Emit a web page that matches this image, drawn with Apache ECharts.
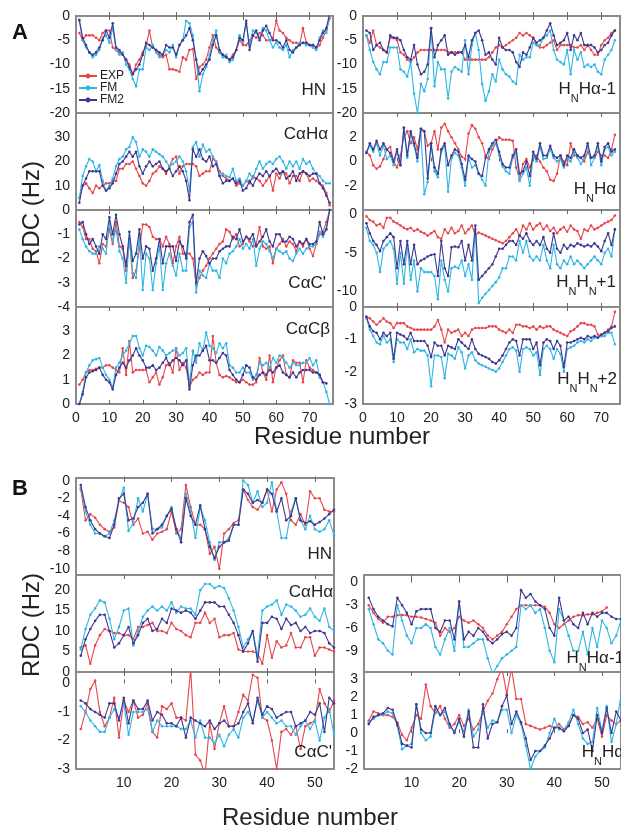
<!DOCTYPE html>
<html>
<head>
<meta charset="utf-8">
<script src="https://cdn.jsdelivr.net/npm/echarts@6/dist/echarts.min.js"></script>
<style>
  html, body { margin: 0; padding: 0; background: #fff; }
  #main { width: 621px; height: 831px; }
</style>
</head>
<body>
<div id="main"></div>
<script>
// residue numbers
var resA = [1,2,3,4,5,6,7,8,9,10,11,12,13,14,15,16,17,18,19,20,21,22,23,24,25,26,27,28,29,30,31,32,33,34,35,36,37,38,39,40,
  41,42,43,44,45,46,47,48,49,50,51,52,53,54,55,56,57,58,59,60,61,62,63,64,65,66,67,68,69,70,71,72,73,74,75,76];
var resAR = [1,2,3,4,5,6,7,8,9,10,11,12,13,14,15,16,17,18,19,20,21,22,23,24,25,26,27,28,29,30,31,32,33,34,35,36,37,38,39,40,
  41,42,43,44,45,46,47,48,49,50,51,52,53,54,55,56,57,58,59,60,61,62,63,64,65,66,67,68,69,70,71,72,73,74];
var resB = [1,2,3,4,5,6,7,8,9,10,11,12,13,14,15,16,17,18,19,20,21,22,23,24,25,26,27,28,29,30,31,32,33,34,35,36,37,38,39,40,
  41,42,43,44,45,46,47,48,49,50,51,52,53,54];

// ---- panel A ----
var aHnExp = [-3.5,-5,-4,-4,-4,-4.5,-5,-3.5,-3,-3, -6.5,-7,-7.5,-8,-9,-10,-12,-10,-9,-7.5,
  -6,-3,-6.5,-7,-8,-8.5,-8,-11,-11,-11.2, -11.5,-8.5,-9,-7,-6.8,-13,-10.5,-10,-9,-6.5,
  -4,-6.5,-7.5,-8,-8.5,-9,-8,-7,-5,-6, -6,-5,-4,-4.5,-3.5,-4,-5,-5,-4.5,-1,
  -3,-3.5,-4.5,-5,-5.5,-5.5,-6,-2.5,-5.5,-6, -6,-6.5,-6,-4.5,-3,-0.5];
var aHnFm = [-1,-5,-6.5,-7.5,-8.5,-8,-7,-4.5,-4,-5.5, -2.5,-7,-8,-7.5,-10,-11,-13,-14.5,-11,-11,
  -6.5,-7,-6,-7.5,-8.5,-8,-7,-7.5,-6,-8.5, -6,-5,-1,-1.5,-4,-9,-15.5,-12,-10.5,-8,
  -5,-3,-7.5,-8.5,-8,-9.5,-9,-7,-4,-5.5, -1.5,-6,-3,-3.5,-4.5,-2.5,-3,-5,-6.5,-5.5,
  -6.5,-7,-6,-8.5,-7,-6.5,-5.5,-5.5,-6,-6, -6.5,-7,-4.5,-3,-3.5,0];
var aHnFm2 = [-0.8,-4.5,-6,-7.5,-8,-7.5,-6.5,-5,-3,-4.5, -1.5,-6.5,-7,-8,-9,-10.5,-12,-11,-10,-8,
  -5.5,-6,-6.5,-7,-7.5,-8,-6,-6.5,-6.5,-8, -6,-5,-4,-2.5,-5,-9,-12,-11,-10,-9,
  -6,-4,-7,-8,-8.5,-9,-8.5,-7,-4.5,-5, -1,-7,-4,-3,-5,-3,-2,-3.5,-5,-5,
  -5.5,-6.5,-5,-7,-7.5,-6.5,-6,-5.5,-5.5,-6, -6,-6.5,-5,-3.5,-2.5,0.5];

var aCaHaExp = [5,10,11,9,7,10,9,10,11,11, 12,12,17,17,19,19,20,17,14,11,
  10,12,15,16,18,17,15,18,21,22, 15,18,19,19,19,18,14,15,16,16,
  21,20,16,14,13,12,13,10,11,10, 12,11,14,13,12,10,12,14,8,15,
  13,16,15,11,14,14,12,16,15,12, 13,12,11,10,7,2];
var aCaHaFm = [5,14,18,21,20,16,18.5,12,8,10, 13,18,21,22,25,26,30,28,22,25,
  24,22,25,24,23,22,20,18,19,20, 22,20,16,8,26,28,22,27,24,25,
  22,20,14,15,14,13.5,17,12,13,10, 12,15,13,17,20,17,19,20,19,21,
  22,20,17,20,18,20,17,21,19,20, 17,15,14,12,11,11];
var aCaHaFm2 = [3,10,13,16,16,16,16,10,8,9, 11,15,19,20,22,24,22,24,18,15,
  18,20,18,19,20,17,16,17,14,16, 18,16,12,4,25,22,25,21,20,22,
  18,19,14,11,12,12,13,11,12,8, 9,12,10,13,15,14,16,14,16,17,
  15,16,13,14,16,12,15,16,15,14, 15,15,11,9,6,3];

var aCaCExp = [-0.5,-0.7,-1.2,-1.2,-1.6,-1.7,-2.2,-1.4,-1.5,-0.8, -1.4,-0.5,-1.5,-1.6,-2.5,-1.2,-2.8,-2.5,-1.6,-0.6,
  -0.6,-0.7,-1.1,-1.2,-1.2,-1.5,-1.1,-1.4,-2.2,-1.5, -1.1,-1.8,-1.8,-1.8,-2,-3.1,-2.8,-2.5,-2.3,-2,
  -1.8,-1.6,-1.4,-1.3,-0.8,-0.9,-1.2,-1,-1.5,-1.4, -1.1,-1.3,-1.5,-1.4,-0.7,-1.5,-1.6,-1.5,-2.2,-1.6,
  -1.4,-1.2,-1.5,-1.3,-1.4,-1.7,-1.3,-1.5,-1.2,-1.6, -1.9,-1.4,-1,-0.9,-0.5,0];
var aCaCFm = [-0.8,-1.2,-1.5,-1.7,-1.8,-1.8,-1.5,-1.6,-1.8,-0.5, -1.3,-0.8,-1.7,-2,-3,-1.2,-2.6,-2.8,-1,-3.3,
  -1.8,-2,-3.3,-2.2,-1.5,-3.3,-2.2,-1.8,-2.3,-2.7, -1.8,-2.5,-2.5,-0.7,-0.5,-3.4,-2.5,-2.7,-2.8,-2.2,
  -2.5,-2.5,-2.8,-2,-2.2,-1.8,-1.7,-1.5,-1.2,-1.6, -1.4,-1.6,-1.2,-2.3,-1.6,-1.3,-1.4,-1.7,-2,-1.6,
  -1.7,-1.8,-1.7,-2,-2.1,-1.8,-1.6,-1.8,-1.6,-1.5, -1.5,-1.4,-0.9,-1.1,-0.8,0];
var aCaCFm2 = [-0.6,-0.5,-1,-1.4,-1.2,-1.5,-1.8,-1,-1.2,-0.3, -1,-0.2,-1,-1.5,-2.3,-0.9,-2.1,-1.8,-0.8,-2,
  -1.5,-1.6,-2.5,-2,-1.2,-2.2,-1.5,-1.5,-1.5,-2.1, -1.3,-1.5,-2,-0.5,-0.2,-3,-2,-1.7,-1.9,-2.2,
  -2,-2,-1.7,-1.6,-1.5,-1.5,-1.1,-1.2,-0.8,-1.3, -1.1,-1.2,-1,-1.5,-1.3,-1.1,-0.8,-1.3,-1.5,-1,
  -1,-1.3,-1.3,-1.1,-1.2,-1.5,-1.3,-1.4,-1.2,-1.4, -1.4,-1.3,-0.5,-1,-0.8,0];

var aCaCbExp = [0.8,1,1.3,1.4,1.4,1.45,1.5,1.5,1.6,1.6, 1.5,1.4,1.3,2.3,1.2,2.6,1.3,1.4,1.4,1.4,
  1.4,0.9,1.1,1.3,0.8,1.1,1.6,1.7,1.3,2.3, 1.4,1.7,1.5,0.7,1,1.1,1.3,1.2,1.3,1.3,
  2.8,1.7,1.2,1.1,1.15,1.1,1,0.9,0.9,1, 0.9,0.8,0.8,0.9,1.9,1.3,1,2,0.9,1.5,
  1.8,2,1.2,1.1,1.8,1.7,1.7,0.9,1.8,1.5, 1.4,1.3,1.2,0.9,null,null];
var aCaCbFm = [0,0.5,1.3,1.6,1.8,1.85,1.9,1.5,1.2,1, 0.7,1.5,1.7,2,2.2,2.5,2.8,2.8,2.3,2,
  2.4,2.35,2.2,2,2.35,2.2,2,2.1,2.2,2.25, 2,2.1,2.3,0.8,2.2,1.7,2.5,2.2,2.95,2.4,
  2.3,2.1,2.5,2.3,2.5,1.6,1.5,1.3,1.3,1.5, 1.3,1.3,1,1.2,1.7,1.6,1.7,1.5,1.9,1.7,
  2,1.9,1.7,1.5,1.7,1.6,1.6,1.7,1.7,1.9, 1.6,1.8,1.1,0.9,0.5,0];
var aCaCbFm2 = [0,0.4,1.1,1.3,1.35,1.4,1.5,1.2,1,0.9, 0.6,1.2,1.5,1.7,1.5,1.8,2,2.3,2,1.8,
  1.5,1.5,1.6,1.4,1.5,1.7,1.9,1.6,1.8,1.9, 1.8,1.6,1.8,0.6,1.6,2,2,2.2,2.4,1.8,
  1.8,1.7,1.9,2.1,2,1.4,1.2,1,0.9,1.2, 1.6,1.5,1.1,1,1.2,1.3,1.2,1.4,1.3,1.5,
  1.6,1.3,1.2,1.1,1.3,1.1,1.3,1.4,1.4,1.4, 1.3,1.3,1.2,0.9,0.85,null];

var aHaExp = [-4,-5.5,-3,-6,-6.5,-7,-7.5,-4.5,-4.5,-5, -7.5,-8,-9,-9.5,-8.5,-7.5,-7,-7,-7,-7,
  -7,-7,-7,-7,-7.5,-7.5,-7.5,-7.5,-7.5,-9, -9,-9,-9,-9,-9,-9,-8.5,-7.5,-6.5,-6,
  -6.5,-6,-5.5,-5,-4.5,-3.5,-4,-3.5,-4,-4.5, -6,-6.5,-6.5,-6,-5.5,-5,-7,-6,-6,-6,
  -6,-6.5,-6.5,-6,-7,-6,-7,-8,-8,-6, -5,-4.5,-3.5,-3];
var aHaFm = [-4,-7,-9.5,-11,-12,-9.5,-9.5,-6.5,-6.5,-6.5, -11,-11.5,-12.5,-9.5,-16,-20,-14,-15.5,-13,-2.5,
  -14.5,-9.5,-11,-11,-17,-11.5,-10.5,-11,-11.5,-5, -12,-6,-3.5,-7,-14,-17.5,-15.5,-12,-13.5,-9,
  -11,-12,-12.5,-13.5,-14,-8,-9,-8.5,-8.5,-5.5, -6,-6,-4.5,-4,-3,-7,-9,-9.5,-10,-7,
  -12,-7,-9,-7.5,-10.5,-10,-10.5,-10,-11.5,-12, -9,-8,-7,-5];
var aHaFm2 = [-3,-3.5,-7,-6,-5.5,-7,-7.5,-4,-4.5,-4.5, -5,-7,-8.5,-9,-6,-10,-12,-11.5,-10,-2.5,
  -8.5,-6,-5,-4,-8,-7.5,-8,-7.5,-7.5,-6, -8.5,-5,-3.5,-3,-5,-8,-7.5,-9,-10,-4.5,
  -6.5,-7,-7,-7.5,-9.5,-10.5,-7.5,-8,-6.5,-4.5, -5.5,-5,-4.5,-3,-1.5,-4,-6,-5.5,-5,-3.5,
  -7,-4,-5,-3.5,-6,-6,-6,-6.5,-7.5,-7, -6,-5.5,-4,-3];

var aHnHaExp = [0.8,0.5,-0.3,-0.6,-0.4,0.2,1,1.2,0,-0.5, 0.5,2,2.5,1.5,2,1,2.7,2.5,1.3,1.5,
  2.5,1,2.8,3.1,2.5,2,1.5,1,0.4,0.2, 2.3,3,2.7,2,1.5,0.5,0.2,1,1.5,2,
  1.8,1.8,1.8,1.7,-0.5,-1.5,-0.2,0.2,-0.5,0.3, 0.5,0,-0.5,-0.8,-1.5,-1.6,-1,0.5,0,-0.3,
  1.5,0.5,0.5,0.3,0,0.8,0.3,0.3,0.8,0.5, 0.5,0.3,1,2.2];
var aHnHaFm = [0.7,1.3,0.8,1.5,0.5,1.3,0.2,0.5,-0.3,0.8, -0.3,2.7,0.3,2.3,1.3,0,2.5,-2.7,-1.7,1.3,
  -0.8,-1.3,0.8,1.3,-2.5,0.3,0.7,0.5,-0.5,-2, 0.3,-0.5,-0.3,-1,-1.5,-2,0.8,1.3,1.5,0.5,
  -0.4,-0.8,-1,0.3,0.7,-1.6,-1,-0.5,-2,0.5, 0,1.2,0.2,0.3,1,0.3,0,0.2,-0.5,0.3,
  0,0.7,0.3,-0.2,0.3,1.3,-0.3,0.3,1.3,-0.3, 1,1.2,0.5,0.8];
var aHnHaFm2 = [0.7,1.5,1,1.7,1,1.5,1,0.7,0,1, -0.3,2.8,0.5,2.5,1.5,0.3,2.7,2.5,-1.4,1.5,
  -0.5,-1,1,1.5,-0.3,0.5,1,0.8,-0.2,-1.5, 0.5,0.2,0,-1,-1.2,0.3,1,1.5,1.8,0.8,
  -0.2,-0.5,-0.5,0.5,1,-1,-0.8,0,-1.2,0.8, 0.2,1.5,0.5,0.5,1.3,0.5,0.3,0.5,-0.3,0.5,
  0.3,1,0.5,0.3,0.5,1.5,0.3,0.5,1.5,0, 1.2,1.5,0.8,1];

var aHn1Exp = [-0.3,-0.8,-1,-1.5,-1.3,-1.8,-0.5,-0.5,-1,-1.2, -1.5,-1.8,-2,-1.8,-2.2,-2,-2.3,-2.5,-2.8,-2.5,
  -2.2,-3,-3.2,-2,-2.5,-1.8,-2.5,-2.2,-1.5,-2.5, -2,-1.5,-2.8,-2.4,-2.6,-2.8,-3,-3.2,-3.4,-3.6,
  -3.8,-3.5,-3,-2.5,-2,-2.8,-1.5,-2,-1.2,-2, -1.5,-1.2,-2,-1.5,-2.2,-1.8,-2.5,-2,-1.7,-2.3,
  -1.5,-2,-2.2,-3.2,-2,-2.2,-1.5,-2,-1.8,-1.5, -1.2,-1,-0.8,-0.2];
var aHn1Fm = [-1.8,-3.5,-4,-5,-7.5,-4.5,-4,-3.5,-4.5,-9, -5,-9,-4,-8.5,-6,-10,-7,-7.5,-7.5,-7.5,
  -8,-11,-6,-8.5,-10,-7,-6.8,-7,-6,-8, -6.5,-8.5,-2,-11.5,-10.8,-10.3,-9.8,-9.3,-8.8,-8.2,
  -7,-7,-5.5,-5.5,-6,-3.5,-5,-3.5,-5.5,-6, -5.5,-6,-4,-6,-7,-4,-6.5,-7,-6,-6.5,
  -5.5,-6.5,-6,-6.5,-7,-6.5,-6,-5.5,-6,-6.5, -5,-4.5,-5.5,-2];
var aHn1Fm2 = [-1.2,-2.5,-3.5,-4,-4.8,-3.5,-3,-2.5,-3,-7, -3.5,-6.5,-3.5,-6.5,-4,-6.5,-6,-5.8,-5.5,-5.3,
  -5.2,-8,-3.5,-7,-8,-4.3,-4.2,-4.3,-3.5,-6, -4,-6,-1.5,-8.5,-8,-7.5,-7,-6.5,-5.5,-4.5,
  -4.5,-4,-3.5,-3.5,-4,-2.8,-3.2,-2.5,-3.5,-4, -3.5,-4,-3,-4.5,-5,-2.5,-4.5,-5,-4,-4.5,
  -4,-4.2,-3.8,-4,-4.2,-4,-4.2,-3.8,-4.2,-4.8, -3.5,-2.5,-4,-2];

var aHn2Exp = [-0.3,-0.35,-0.45,-0.55,-0.45,-0.35,-0.45,-0.5,-0.65,-0.5, -0.5,-0.5,-0.6,-0.65,-0.7,-0.7,-0.7,-0.7,-0.7,-0.7,
  -0.6,-0.4,-0.7,-1.1,-0.7,-0.8,-0.75,-0.7,-0.9,-0.8, -0.9,-0.7,-0.65,-0.65,-0.65,-0.65,-0.6,-0.6,-0.6,-0.7,
  -0.75,-0.8,-0.7,-0.8,-0.55,-0.55,-0.6,-0.6,-0.65,-0.6, -0.7,-0.6,-0.65,-0.6,-0.6,-0.7,-0.75,-0.8,-0.85,-0.9,
  -0.75,-0.7,-0.6,-0.5,-0.5,-0.55,-0.55,-0.6,-0.85,-0.9, -0.8,-0.7,-0.6,-0.15];
var aHn2Fm = [-0.35,-0.7,-0.9,-1.1,-1.15,-0.9,-1.1,-1,-1.7,-1, -1.1,-1.1,-1.3,-1,-1.4,-1.3,-1.35,-1.35,-1.5,-2.45,
  -1.5,-1.5,-1.55,-2.2,-1.45,-1.5,-1.6,-1.25,-1.4,-1.9, -1.5,-1.4,-1.65,-1.75,-1.8,-1.85,-1.9,-1.95,-2,-1.9,
  -1.7,-1.5,-1.3,-1.25,-1.35,-2,-1.3,-1.25,-1.3,-1.5, -1.4,-2.1,-1.3,-1.2,-1.3,-1.6,-1.3,-1.45,-2,-1.3,
  -1.25,-1.2,-1.1,-1.05,-1.1,-1,-1.05,-0.95,-0.95,-0.9, -0.9,-0.8,-0.8,-1.15];
var aHn2Fm2 = [-0.3,-0.6,-0.75,-0.8,-1,-0.8,-0.9,-0.8,-1.6,-0.8, -0.85,-0.9,-1,-0.8,-1.05,-1.05,-1.05,-1.05,-1.2,-1.55,
  -1.1,-1.2,-1.2,-1.5,-1.2,-1.25,-1.3,-1,-1.1,-1.2, -1.3,-1,-1.3,-1.45,-1.5,-1.55,-1.6,-1.7,-1.75,-1.65,
  -1.5,-1.3,-1.1,-1,-1.05,-1.5,-1,-1,-1,-1.3, -1.1,-1.8,-1.1,-1,-1.05,-1.3,-1.05,-1.2,-1.85,-1.1,
  -1.1,-1.05,-1,-0.95,-1,-0.9,-0.95,-0.9,-0.95,-0.85, -0.8,-0.75,-0.65,-0.6];

// ---- panel B ----
var bHnExp = [-1,-4.5,-3.8,-4.2,-5,-5.5,-5.8,-5.3,-2.3,-2.5, -3,-5,-4.3,-6,-5.8,-6.7,-6,-5.8,-5.5,-3.5,
  -6,-5.5,-0.5,-3,-5,-5,-5.5,-8.3,-7.5,-10, -6,-5.5,-4.8,-4.5,-1,-2.2,-3,-3.3,-2.5,-1,
  -3.5,-1,-0.2,-1.5,-4.5,-5,-3.8,-5,-1.2,-2, -2,-3.3,-3.5,-3.5];
var bHnFm = [-0.8,-3.5,-5,-6,-6,-6.3,-6,-4.5,-2.3,-0.8, -5.7,-4.8,-2,-3.5,-1.5,-5.5,-5.5,-5.3,-4,-3,
  -5.5,-6.5,-1.5,-3.5,-6.5,-3,-4.5,-7,-9,-7, -7,-6.5,-5,-5,0,-0.5,-2.5,-1.2,-3,-2.5,
  -0.2,-3.5,-6.5,-6.5,-3.5,-2,-4.5,-5.5,-4,-5.5, -5.8,-5.5,-4.5,-6.2];
var bHnFm2 = [-0.5,-3,-4.5,-5.5,-6,-6.3,-6.5,-5,-2,-1.5, -4.5,-4.3,-3,-2.5,-1.5,-6,-5.5,-5,-4,-3.2,
  -5.5,-7,-2,-4,-5,-2.8,-5.5,-7.5,-8.8,-7.5, -7,-6.8,-5,-5,-1,-1.5,-2.5,-2.2,-2.5,-1,
  -1.5,-3.5,-2,-4.5,-4,-2,-4.5,-4.8,-4.6,-5, -4.7,-4.3,-3.8,-3.3];

var bCaHaExp = [6,6.5,2,6.5,9,10.5,10,9.5,9.5,9, 9,8,11,11,11.5,12,10,10,9.5,12,
  10.5,10,9,8.5,12,12,14.5,12,13,8.5, 9,9,9.5,5.5,5,5,5,4.5,2,9,
  3.5,7.5,6,6.5,9.5,6,6,8.5,8.5,4, 6,6,5.5,5];
var bCaHaFm = [5.5,10.5,14,15.5,17.5,17,13,8,11,15, 15.5,6.5,10,13.5,15,16,15,16,15,17,
  14.5,16,15.5,15.5,14,20,21.5,21.5,20.5,21, 20.5,18,15,11,6,8,10,4,15,16,
  16.5,17.5,14,16.5,16,15,13.5,14,15.5,13.5, 12.5,15.5,11,10];
var bCaHaFm2 = [4,8,10.5,12.5,14,14,10,6,7,9, 11,7,9,12,13,10,10.5,13,12,15.5,
  15,14.5,15,14.5,13,15,17,17,17,16, 16,14,12,9,5,7,10,2.5,12,12,
  13.5,13,10.5,13,11.5,12,10,11,9.5,10, 10,9.5,7,6];

var bCaCExp = [-1.6,-1,-0.2,0.1,-1,-1.5,-1.2,-0.5,-1.9,-0.6, -1,-0.6,-1.2,-1.1,-0.7,-1.7,-1.9,-0.8,-0.9,-0.7,
  -1.2,-1.2,-1.3,0.5,-2.5,-2.7,-3.2,-1.4,-2.3,-1.4, -0.8,-1.5,-1.5,-1,-0.4,-0.6,0.3,0.2,-1.2,-1.3,
  -2,-3,-1.7,-1.6,-1.8,-1.5,-2.3,-1.5,-1.4,-1.3, -0.2,-0.7,-1,-0.6];
var bCaCFm = [-0.8,-1,-1.3,-1.5,-1.7,-1.7,-1.2,-0.9,-1.2,-0.7, -1.8,-1,-1,-1,-0.9,-1.7,-1.3,-1.5,-1.5,-1.5,
  -1.5,-1.6,-1.6,-1.3,-1.9,-1.3,-1.9,-1.9,-2.1,-1.8, -2.2,-1.8,-1.6,-1.9,-1.2,-1,-1.3,-0.6,-1.2,-1,
  -1.2,-1.4,-1.3,-1.5,-1.5,-1.8,-1.5,-1.3,-1.6,-1.3, -2,-1.2,-0.9,-1.8];
var bCaCFm2 = [-0.6,-0.7,-0.9,-1,-1.1,-1.2,-0.7,-0.7,-1.3,-0.5, -1.4,-0.6,-0.9,-0.9,-0.6,-1.3,-1,-1.1,-1.4,-1.4,
  -1.5,-1.2,-1.9,-1.2,-1.3,-1.4,-1.5,-1.3,-1.6,-1.4, -1.3,-1.5,-1.5,-1.4,-1,-0.7,-1.4,-0.5,-1.1,-0.8,
  -0.9,-1.2,-1.1,-1,-1,-1.5,-1.4,-1.3,-1,-1.1, -0.7,-1.7,-0.5,-0.7];

var bHaExp = [-3,-4,-4.8,-5.3,-4.5,-4.5,-4.3,-4.3,-4.3,-4.5, -4.5,-4.6,-4.8,-5,-5.3,-7,-6,-6.5,-6,-4.5,
  -5,-5.3,-5,-5.5,-6,-7,-7.5,-7,-6.5,-5.5, -4.5,-3.5,-3,-3,-3,-3,-3,-3.2,-4,-5.5,
  -6,-5.5,-5,-4.5,-4.3,-4.3,-4.2,-4.2,-4,-3.8, -3.3,null,null,null];
var bHaFm = [-3.5,-5.5,-7.5,-8,-9,-9.5,-3,-5,-7,-8, -6,-6,-5.5,-6,-8.5,-9.5,-7.5,-6,-9,-2.5,
  -8.5,-8.5,-8,-7.5,-7.5,-10,-12,-11,-10,-9.5, -9,-8.5,-3,-3.5,-3,-4,-3.5,-6,-9,-10.5,
  -3.5,-5,-7,-9,-9,-6.5,-9.5,-6,-8.5,-5, -6,-8,-7,-5];
var bHaFm2 = [-2,-3.5,-4.5,-5,-5.5,-5.8,-2,-3,-4,-5.5, -3.8,-3.5,-3.5,-3.5,-6,-6.5,-5,-5,-7.5,-2.5,
  -7.5,-6.5,-7,-6,-6.5,-7.5,-8,-7.5,-6.8,-6.5, -7,-6,-1,-2,-1.5,-2.5,-3,-3.5,-6,-7,
  -2,-5,-4.5,-5.5,-6,-4,-5.5,-4,-4.5,-4, -4,-4.5,-4.8,-4.8];

var bHnHaExp = [0.7,1.2,1.1,1,1,0.9,0.6,-0.1,-0.4,0.3, 1,0.8,2.7,1.5,1.1,1.5,0.8,0.3,0.5,1,
  0.4,0.8,0.2,0.5,1.2,1.8,2.2,3,3.6,2.2, 3.6,1.9,1.9,0.5,0.4,0.3,0.2,0.3,0.4,0.3,
  0.5,0.2,0.4,1,0.9,0.5,0.6,0.3,0.8,-0.2, 1,0.7,0.5,0.7];
var bHnHaFm = [0.6,0.8,1,1,1.2,1.1,0.4,-0.9,-0.7,-0.6, 1.6,0,-0.4,-0.2,1.3,1,1.2,0.4,0.1,0.6,
  0.1,1.3,-0.2,0.2,1.2,0.3,0.7,0.6,1.3,1.3, 0,1,0.5,-0.7,-2,-1.3,-1,-0.8,0,0.8,
  0.2,0.2,0.6,1.3,0.5,-0.3,-0.6,-0.5,1.4,0.1, 1.5,-0.5,0.5,2.1];
var bHnHaFm2 = [0.5,0.9,1,1.1,1.4,1.3,0.5,-0.6,-0.7,-0.8, 1.6,0.2,0,0,1.5,1,1.4,0.5,0,0.8,
  -0.2,1.2,-0.8,-0.8,1.6,-0.3,0.5,0.6,1.5,2.1, 0.5,1.2,0.6,-0.3,-1.5,-1,-1,-0.7,-0.3,0.3,
  0.3,0.1,0.4,1,0.8,0,0.2,-1,1,0, 1.4,0,1.2,0.7];

var seriesNames = ['EXP', 'FM', 'FM2'];
var seriesColors = ['#e8464b', '#2fb6e4', '#3d3890'];

// layout: left, top, width, height, x range, y range, tick labels
var panels = [
  { res: resA, d: [aHnExp, aHnFm, aHnFm2], g: [76, 16, 257, 97], x: [0, 77], y: [-20, 0], yl: [0, -5, -10, -15, -20], xl: false,
    name: '{n|HN}', lx: 326, ly: 102, lv: 'bottom' },
  { res: resA, d: [aCaHaExp, aCaHaFm, aCaHaFm2], g: [76, 113, 257, 97], x: [0, 77], y: [0, 40], yl: [10, 20, 30], xl: false,
    name: '{n|CαHα}', lx: 328, ly: 126, lv: 'top' },
  { res: resA, d: [aCaCExp, aCaCFm, aCaCFm2], g: [76, 210, 257, 97], x: [0, 77], y: [-4, 0], yl: [0, -1, -2, -3, -4], xl: false,
    name: "{n|CαC'}", lx: 326, ly: 295, lv: 'bottom' },
  { res: resA, d: [aCaCbExp, aCaCbFm, aCaCbFm2], g: [76, 307, 257, 97], x: [0, 77], y: [0, 4], yl: [0, 1, 2, 3], xl: true,
    name: '{n|CαCβ}', lx: 330, ly: 321, lv: 'top' },
  { res: resAR, d: [aHaExp, aHaFm, aHaFm2], g: [363, 16, 257, 97], x: [0, 75.5], y: [-20, 0], yl: [0, -5, -10, -15, -20], xl: false,
    name: '{n|H}{s|N}{n|Hα-1}', lx: 616, ly: 101, lv: 'bottom' },
  { res: resAR, d: [aHnHaExp, aHnHaFm, aHnHaFm2], g: [363, 113, 257, 97], x: [0, 75.5], y: [-4, 4], yl: [2, 0, -2], xl: false,
    name: '{n|H}{s|N}{n|Hα}', lx: 616, ly: 201, lv: 'bottom' },
  { res: resAR, d: [aHn1Exp, aHn1Fm, aHn1Fm2], g: [363, 210, 257, 97], x: [0, 75.5], y: [-12, 0.5], yl: [0, -5, -10], xl: false,
    name: '{n|H}{s|N}{n|H}{s|N}{n|+1}', lx: 616, ly: 294, lv: 'bottom' },
  { res: resAR, d: [aHn2Exp, aHn2Fm, aHn2Fm2], g: [363, 307, 257, 97], x: [0, 75.5], y: [-3, 0], yl: [0, -1, -2, -3], xl: true,
    name: '{n|H}{s|N}{n|H}{s|N}{n|+2}', lx: 617, ly: 391, lv: 'bottom' },
  { res: resB, d: [bHnExp, bHnFm, bHnFm2], g: [76, 478, 258, 97], x: [0, 54], y: [-10.7, 0.3], yl: [0, -2, -4, -6, -8, -10], xl: false,
    name: '{n|HN}', lx: 332, ly: 566, lv: 'bottom' },
  { res: resB, d: [bCaHaExp, bCaHaFm, bCaHaFm2], g: [76, 575, 258, 97], x: [0, 54], y: [0, 23.7], yl: [0, 5, 10, 15, 20], xl: false,
    name: '{n|CαHα}', lx: 333, ly: 584, lv: 'top' },
  { res: resB, d: [bCaCExp, bCaCFm, bCaCFm2], g: [76, 672, 258, 97], x: [0, 54], y: [-3, 0.4], yl: [0, -1, -2, -3], xl: true,
    name: "{n|CαC'}", lx: 332, ly: 764, lv: 'bottom' },
  { res: resB, d: [bHaExp, bHaFm, bHaFm2], g: [364, 575, 258, 97], x: [0, 54], y: [-11.8, 1], yl: [0, -3, -6, -9], xl: false,
    name: '{n|H}{s|N}{n|Hα-1}', lx: 624, ly: 670, lv: 'bottom' },
  { res: resB, d: [bHnHaExp, bHnHaFm, bHnHaFm2], g: [364, 672, 258, 97], x: [0, 54], y: [-2, 3.4], yl: [3, 2, 1, 0, -1, -2], xl: true,
    name: '{n|H}{s|N}{n|Hα}', lx: 624, ly: 764, lv: 'bottom' }
];

var xTicksA = [10, 20, 30, 40, 50, 60, 70];
var xLabelsA = [0, 10, 20, 30, 40, 50, 60, 70];
var xTicksB = [10, 20, 30, 40, 50];

var FONT = '"Liberation Sans", Arial, Helvetica, sans-serif';
var frame = '#8a8a8a';
var grids = [], xAxes = [], yAxes = [], series = [], graphics = [];

panels.forEach(function (p, i) {
  var isB = p.res === resB;
  grids.push({ left: p.g[0], top: p.g[1], width: p.g[2], height: p.g[3], show: true,
    borderColor: frame, borderWidth: 2, backgroundColor: '#fff' });
  var ticks = isB ? xTicksB : xTicksA;
  var labs = isB ? xTicksB : xLabelsA;
  xAxes.push({ gridIndex: i, type: 'value', min: p.x[0], max: p.x[1], position: 'bottom',
    axisLine: { show: false }, splitLine: { show: false },
    axisTick: { show: true, inside: true, length: 4, customValues: ticks, lineStyle: { color: '#666', width: 1 } },
    axisLabel: { show: p.xl, customValues: labs, fontFamily: FONT, fontSize: 14, color: '#222', margin: 7 } });
  xAxes.push({ gridIndex: i, type: 'value', min: p.x[0], max: p.x[1], position: 'top',
    axisLine: { show: false }, splitLine: { show: false },
    axisTick: { show: true, inside: true, length: 4, customValues: ticks, lineStyle: { color: '#666', width: 1 } },
    axisLabel: { show: false } });
  yAxes.push({ gridIndex: i, type: 'value', min: p.y[0], max: p.y[1],
    axisLine: { show: false }, splitLine: { show: false }, axisTick: { show: false },
    axisLabel: { customValues: p.yl, fontFamily: FONT, fontSize: 14, color: '#222', margin: 6 } });
  p.d.forEach(function (vals, k) {
    series.push({
      name: seriesNames[k], type: 'line', xAxisIndex: 2 * i, yAxisIndex: i,
      data: p.res.map(function (r, j) { return [r, vals[j] == null ? '-' : vals[j]]; }),
      connectNulls: true, symbol: 'circle', symbolSize: 2.6, showSymbol: true,
      lineStyle: { color: seriesColors[k], width: 1.1 },
      itemStyle: { color: seriesColors[k] },
      z: k === 0 ? 2 : (k === 1 ? 3 : 4), silent: true
    });
  });
  graphics.push({ type: 'text', x: p.lx, y: p.ly, z: 100,
    style: { text: p.name, align: 'right', verticalAlign: p.lv, fill: '#222',
      rich: {
        n: { fontFamily: FONT, fontSize: 17, color: '#222', lineHeight: 20, verticalAlign: 'top' },
        s: { fontFamily: FONT, fontSize: 11, color: '#222', lineHeight: 11, padding: [12, 0, 0, 0], verticalAlign: 'top' }
      } } });
});

graphics.push(
  { type: 'text', x: 12, y: 22, style: { text: 'A', font: 'bold 22px ' + FONT, fill: '#111' } },
  { type: 'text', x: 12, y: 478, style: { text: 'B', font: 'bold 22px ' + FONT, fill: '#111' } },
  { type: 'text', x: 32, y: 213, rotation: Math.PI / 2,
    style: { text: 'RDC (Hz)', font: '24px ' + FONT, fill: '#222', align: 'center', verticalAlign: 'middle' } },
  { type: 'text', x: 32, y: 625, rotation: Math.PI / 2,
    style: { text: 'RDC (Hz)', font: '24px ' + FONT, fill: '#222', align: 'center', verticalAlign: 'middle' } },
  { type: 'text', x: 342, y: 437, style: { text: 'Residue number', font: '24px ' + FONT, fill: '#222', align: 'center', verticalAlign: 'middle' } },
  { type: 'text', x: 310, y: 818, style: { text: 'Residue number', font: '24px ' + FONT, fill: '#222', align: 'center', verticalAlign: 'middle' } }
);

var chart = echarts.init(document.getElementById('main'), null, { renderer: 'canvas' });
chart.setOption({
  animation: false,
  backgroundColor: '#fff',
  grid: grids,
  xAxis: xAxes,
  yAxis: yAxes,
  series: series,
  legend: { data: seriesNames, orient: 'vertical', left: 78, top: 70, itemWidth: 18, itemHeight: 6, itemGap: 0,
    padding: 0, selectedMode: false,
    textStyle: { fontFamily: FONT, fontSize: 12, color: '#222', lineHeight: 11, padding: [0, 0, 0, -2] } },
  graphic: graphics
});
</script>
</body>
</html>
